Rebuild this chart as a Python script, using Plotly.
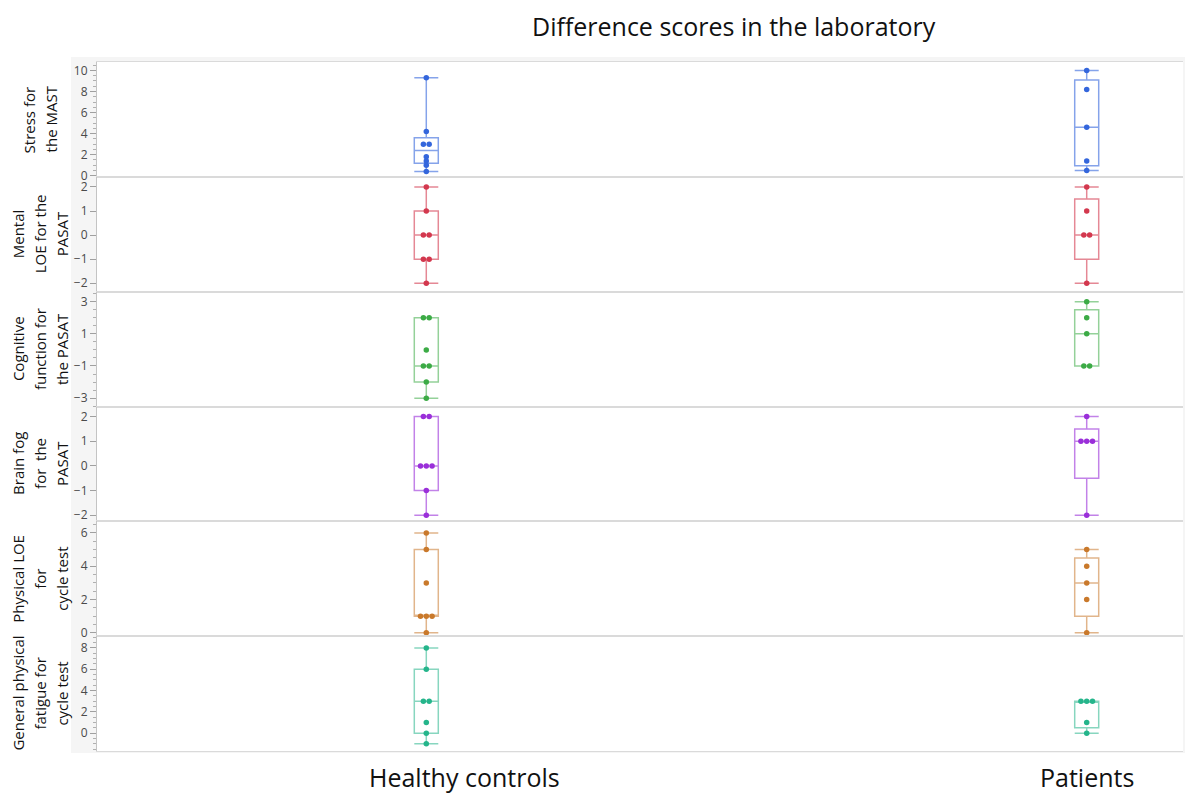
from collections import Counter, defaultdict
import plotly.graph_objects as go
from plotly.subplots import make_subplots

# ---------------- data ----------------
groups = ["Healthy controls", "Patients"]
group_pos = [0, 1]
panel_titles = [
    ["Stress for", "the MAST"],
    ["Mental", "LOE for the", "PASAT"],
    ["Cognitive", "function for", "the PASAT"],
    ["Brain fog", "for\u00a0 the", "PASAT"],
    ["Physical LOE", "for", "cycle test"],
    ["General physical", "fatigue for", "cycle test"],
]
chart_title = "Difference scores in the laboratory"

stress_hc = [9.3, 4.2, 3.0, 3.0, 1.8, 1.4, 1.0, 0.4]
stress_pt = [10.0, 8.2, 4.6, 1.4, 0.5]
mental_hc = [2, 1, 0, 0, -1, -1, -2]
mental_pt = [2, 1, 0, 0, -2]
cognitive_hc = [2, 2, 0, -1, -1, -2, -3]
cognitive_pt = [3, 2, 1, -1, -1]
brainfog_hc = [2, 2, 0, 0, 0, -1, -2]
brainfog_pt = [2, 1, 1, 1, -2]
physical_hc = [6, 5, 3, 1, 1, 1, 0]
physical_pt = [5, 4, 3, 2, 0]
fatigue_hc = [8, 6, 3, 3, 1, 0, -1]
fatigue_pt = [3, 3, 3, 1, 0]

stress_ticks = [0, 2, 4, 6, 8, 10]
mental_ticks = [-2, -1, 0, 1, 2]
cognitive_ticks = [-3, -1, 1, 3]
brainfog_ticks = [-2, -1, 0, 1, 2]
physical_ticks = [0, 2, 4, 6]
fatigue_ticks = [0, 2, 4, 6, 8]

panels = [
    (stress_hc, stress_pt, stress_ticks),
    (mental_hc, mental_pt, mental_ticks),
    (cognitive_hc, cognitive_pt, cognitive_ticks),
    (brainfog_hc, brainfog_pt, brainfog_ticks),
    (physical_hc, physical_pt, physical_ticks),
    (fatigue_hc, fatigue_pt, fatigue_ticks),
]

# ---------------- styling / layout ----------------
W, H = 1185, 794
ML, MR, MT, MB = 97, 2, 62, 43
PW, PH = W - ML - MR, H - MT - MB

point_colors = ["#3466dc", "#d3384e", "#3cab46", "#9a2fd9", "#c9792b", "#25b58b"]
line_colors = ["rgba(52,102,220,0.6)", "rgba(211,56,78,0.6)", "rgba(60,171,70,0.55)",
               "rgba(154,47,217,0.6)", "rgba(201,121,43,0.55)", "rgba(37,181,139,0.55)"]
y_ranges = [[-0.1, 10.8], [-2.35, 2.42], [-3.52, 3.62], [-2.25, 2.41], [-0.2, 6.7], [-1.67, 9.1]]
minor_dt = [0.5, None, 0.5, None, 0.5, 0.5]
x_range = [-0.4986, 1.1458]
px_per_unit = PW / (x_range[1] - x_range[0])
dot_spacing = 5.8 / px_per_unit
box_width = 24 / px_per_unit
label_xshift = [38, 0]
FONT = "Open Sans"
TITLE_CX = 40       # px centre of the rotated y titles
TITLE_LINE = 22     # px between title lines


def side_offsets(vals, spacing):
    counts = Counter(vals)
    seen = defaultdict(int)
    out = []
    for v in vals:
        k = counts[v]
        i = seen[v]
        seen[v] += 1
        out.append((i - (k - 1) / 2) * spacing)
    return out


def px2paper_x(px):
    return (px - ML) / PW


def px2paper_y(py):
    return ((H - MB) - py) / PH


fig = make_subplots(rows=6, cols=1, vertical_spacing=0)

for r, (hc, pt, ticks) in enumerate(panels, start=1):
    i = r - 1
    xs = [group_pos[0]] * len(hc) + [group_pos[1]] * len(pt)
    ys = hc + pt
    fig.add_trace(go.Box(
        x=xs, y=ys, boxpoints=False, quartilemethod="exclusive",
        width=box_width, whiskerwidth=1,
        line=dict(color=line_colors[i], width=1.5),
        fillcolor="rgba(0,0,0,0)", showlegend=False, hoverinfo="skip",
    ), row=r, col=1)
    for g, vals in zip(group_pos, (hc, pt)):
        offs = side_offsets(vals, dot_spacing)
        fig.add_trace(go.Scatter(
            x=[g + o for o in offs], y=vals, mode="markers",
            marker=dict(color=point_colors[i], size=5.5),
            showlegend=False, hoverinfo="skip",
        ), row=r, col=1)
    yax = dict(
        range=y_ranges[i], tickvals=ticks, ticks="outside", ticklen=6,
        tickcolor="#a0a0a0", tickwidth=1, showgrid=False, zeroline=False,
        showline=True, linecolor="#c4c4c4", linewidth=1,
        tickfont=dict(family=FONT, size=12, color="#4a4a4a"),
    )
    if minor_dt[i]:
        yax["minor"] = dict(dtick=minor_dt[i], tick0=0, ticks="outside", ticklen=3,
                            tickcolor="#b0b0b0", showgrid=False)
    fig.update_yaxes(row=r, col=1, **yax)
    fig.update_xaxes(row=r, col=1, range=x_range, showticklabels=False, ticks="",
                     showgrid=False, zeroline=False, showline=True, mirror=True,
                     linecolor="#dadada", linewidth=1)
    lines = panel_titles[i]
    n = len(lines)
    for j, line in enumerate(lines):
        cx = TITLE_CX + (j - (n - 1) / 2) * TITLE_LINE
        fig.add_annotation(
            text=line, xref="paper", yref="paper",
            x=px2paper_x(cx), y=1 - (i + 0.5) / 6, xanchor="center", yanchor="middle",
            textangle=-90, showarrow=False,
            font=dict(family=FONT, size=15, color="#111111"),
        )

for g, name, xs in zip(group_pos, groups, label_xshift):
    fig.add_annotation(
        text=name, xref="x6", yref="paper", x=g, y=px2paper_y(777),
        xanchor="center", yanchor="middle", xshift=xs, showarrow=False,
        font=dict(family=FONT, size=25, color="#111111"),
    )

fig.add_annotation(
    text=chart_title, xref="paper", yref="paper",
    x=px2paper_x(734), y=px2paper_y(26), xanchor="center", yanchor="middle",
    showarrow=False, font=dict(family=FONT, size=25, color="#111111"),
)

fig.update_layout(
    width=W, height=H,
    margin=dict(l=ML, r=MR, t=MT, b=MB),
    paper_bgcolor="white", plot_bgcolor="rgba(0,0,0,0)",
    boxmode="overlay", showlegend=False,
    shapes=[
        dict(type="rect", xref="paper", yref="paper", layer="below",
             x0=px2paper_x(71), x1=px2paper_x(1185), y0=px2paper_y(753), y1=px2paper_y(57),
             fillcolor="#f5f5f5", line=dict(width=0)),
        dict(type="rect", xref="paper", yref="paper", layer="below",
             x0=0, x1=1, y0=0, y1=1, fillcolor="white", line=dict(width=0)),
    ],
)

fig.write_html("out.html", config={"displayModeBar": False},
               post_script="document.body.style.margin='0';document.body.style.padding='0';")
